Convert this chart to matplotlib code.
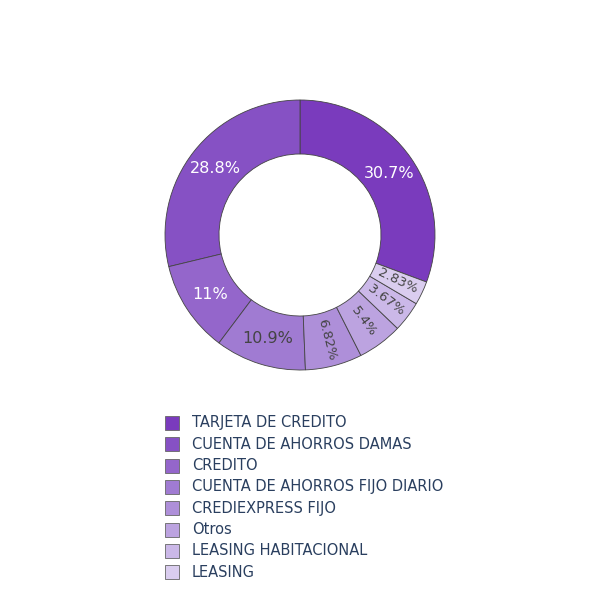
import matplotlib
matplotlib.use("Agg")
import matplotlib.pyplot as plt
from matplotlib.patches import Rectangle
import numpy as np

labels = ["TARJETA DE CREDITO", "CUENTA DE AHORROS DAMAS", "CREDITO",
          "CUENTA DE AHORROS FIJO DIARIO", "CREDIEXPRESS FIJO", "Otros",
          "LEASING HABITACIONAL", "LEASING"]
values = [30.7, 28.8, 11.0, 10.9, 6.82, 5.4, 3.67, 2.83]
pct_text = ["30.7%", "28.8%", "11%", "10.9%", "6.82%", "5.4%", "3.67%", "2.83%"]
colors = ["#7a3bbd", "#8651c4", "#9466cb", "#a07bd2", "#ae8fd9",
          "#bca3e0", "#cbb8e8", "#dacdef"]
text_colors = ["white", "white", "white", "#444444", "#444444", "#444444", "#444444", "#444444"]

plt.rcParams['font.family'] = ['DejaVu Sans']
W = H = 600
fig = plt.figure(figsize=(6, 6), dpi=100)
fig.patch.set_facecolor("white")

cx, cy, R = 300, 235, 135
ax = fig.add_axes([(cx - R) / W, 1 - (cy + R) / H, 2 * R / W, 2 * R / H])

total = sum(values)
start = 90 - values[0] / total * 360
wedges, _ = ax.pie(values, colors=colors, startangle=start, counterclock=True,
                   radius=1, wedgeprops=dict(width=0.4, edgecolor="#444444", linewidth=0.6))
ax.set_xlim(-1, 1)
ax.set_ylim(-1, 1)
ax.set_aspect("equal")
ax.axis("off")

for w, txt, tc, v in zip(wedges, pct_text, text_colors, values):
    th = (w.theta1 + w.theta2) / 2
    r = 0.8
    x = r * np.cos(np.radians(th))
    y = r * np.sin(np.radians(th))
    if v < 8:
        rot = ((th + 180) % 360) - 180
        if rot > 90:
            rot -= 180
        elif rot < -90:
            rot += 180
        size = 9.6
    else:
        rot = 0
        size = 11.5
    ax.text(x, y, txt, ha="center", va="center", rotation=rot,
            rotation_mode="anchor", color=tc, fontsize=size)

# legend
y0 = 423
dy = 21.3
for i, (lab, col) in enumerate(zip(labels, colors)):
    yc = y0 + i * dy
    fig.patches.append(Rectangle(((165) / W, 1 - (yc + 7) / H), 14 / W, 14 / H,
                                 transform=fig.transFigure, facecolor=col,
                                 edgecolor="#666666", linewidth=0.6))
    fig.text(192 / W, 1 - yc / H, lab, ha="left", va="center",
             fontsize=10.5, color="#2a3f5f")

fig.savefig("out.png", dpi=100)
